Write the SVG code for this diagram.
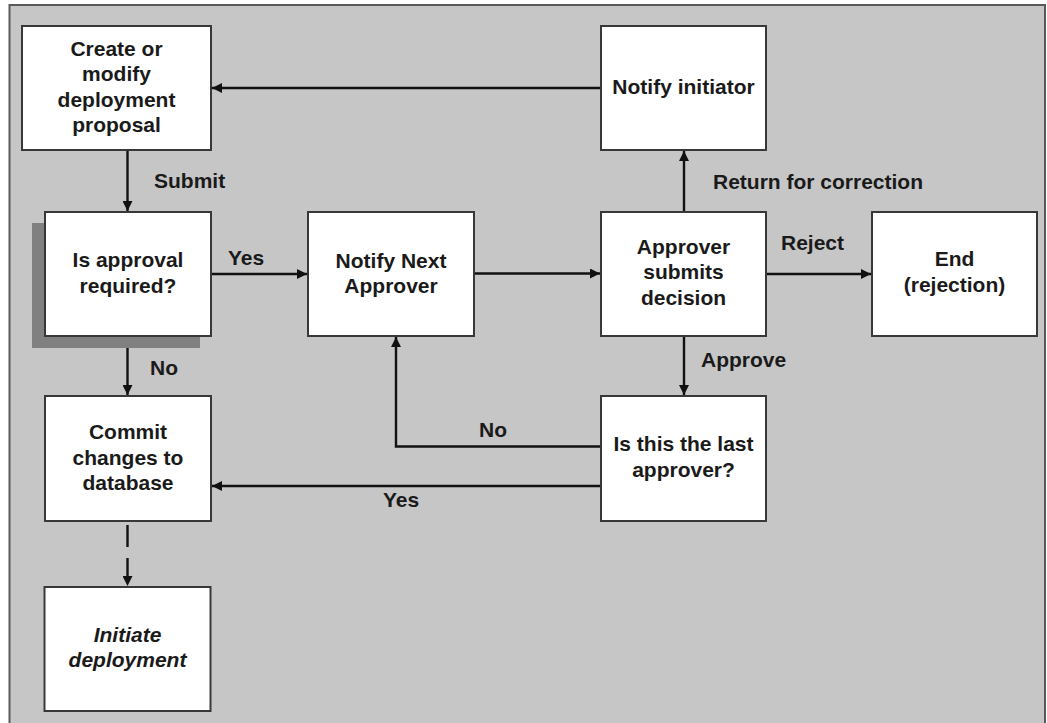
<svg xmlns="http://www.w3.org/2000/svg" width="1047" height="723" viewBox="0 0 1047 723">
<defs>
<style>
.box{fill:#ffffff;stroke:#383838;stroke-width:2}
.t{font-family:"Liberation Sans",Arial,sans-serif;font-size:21px;font-weight:bold;fill:#1a1a1a;text-anchor:middle}
.l{font-family:"Liberation Sans",Arial,sans-serif;font-size:21px;font-weight:bold;fill:#1a1a1a}
.c{fill:none;stroke:#111111;stroke-width:2.4}
</style>
<marker id="ah" viewBox="0 0 10 10" refX="10" refY="5" markerWidth="10" markerHeight="10" markerUnits="userSpaceOnUse" orient="auto">
<path d="M0,0 L10,5 L0,10 z" fill="#111111"/>
</marker>
</defs>
<rect x="0" y="0" width="1047" height="723" fill="#ffffff"/>
<rect x="9.5" y="5" width="1035.5" height="730" fill="#c6c6c6" stroke="#5a5a5a" stroke-width="2"/>

<g id="connectors">
<line class="c" x1="601" y1="88" x2="212" y2="88" marker-end="url(#ah)"/>
<line class="c" x1="127.5" y1="150" x2="127.5" y2="211" marker-end="url(#ah)"/>
<line class="c" x1="211" y1="274" x2="307" y2="274" marker-end="url(#ah)"/>
<line class="c" x1="474" y1="273.5" x2="600" y2="273.5" marker-end="url(#ah)"/>
<line class="c" x1="684" y1="212" x2="684" y2="151" marker-end="url(#ah)"/>
<line class="c" x1="766" y1="274" x2="871" y2="274" marker-end="url(#ah)"/>
<line class="c" x1="684" y1="336" x2="684" y2="395" marker-end="url(#ah)"/>
<line class="c" x1="127.5" y1="336" x2="127.5" y2="395" marker-end="url(#ah)"/>
<polyline class="c" points="601,446.5 396,446.5 396,337" marker-end="url(#ah)"/>
<line class="c" x1="601" y1="486" x2="212" y2="486" marker-end="url(#ah)"/>
<line class="c" x1="127.5" y1="525" x2="127.5" y2="586" stroke-dasharray="22 11" marker-end="url(#ah)"/>
<text class="l" x="154" y="188">Submit</text>
<text class="l" x="228" y="265">Yes</text>
<text class="l" x="150" y="375">No</text>
<text class="l" x="713" y="189">Return for correction</text>
<text class="l" x="781" y="250">Reject</text>
<text class="l" x="701" y="367">Approve</text>
<text class="l" x="479" y="437">No</text>
<text class="l" x="383" y="507">Yes</text>
</g>

<g id="create">
<rect class="box" x="22" y="26" width="189" height="124"/>
<text class="t" x="116.5" y="55.5">Create or</text>
<text class="t" x="116.5" y="81">modify</text>
<text class="t" x="116.5" y="106.5">deployment</text>
<text class="t" x="116.5" y="132">proposal</text>
</g>

<g id="approval-required">
<rect x="32" y="223" width="168" height="125" fill="#808080"/>
<rect class="box" x="45" y="212" width="166" height="124"/>
<text class="t" x="128" y="267">Is approval</text>
<text class="t" x="128" y="292.5">required?</text>
</g>

<g id="notify-next">
<rect class="box" x="308" y="212" width="166" height="124"/>
<text class="t" x="391" y="267.5">Notify Next</text>
<text class="t" x="391" y="292.5">Approver</text>
</g>

<g id="approver-submits">
<rect class="box" x="601" y="212" width="165" height="124"/>
<text class="t" x="683.5" y="253.5">Approver</text>
<text class="t" x="683.5" y="279">submits</text>
<text class="t" x="683.5" y="304.5">decision</text>
</g>

<g id="end">
<rect class="box" x="872" y="212" width="165" height="124"/>
<text class="t" x="954.5" y="266">End</text>
<text class="t" x="954.5" y="292">(rejection)</text>
</g>

<g id="notify-initiator">
<rect class="box" x="601" y="26" width="165" height="124"/>
<text class="t" x="683.5" y="94">Notify initiator</text>
</g>

<g id="last-approver">
<rect class="box" x="601" y="396" width="165" height="125"/>
<text class="t" x="683.5" y="450.5">Is this the last</text>
<text class="t" x="683.5" y="476.5">approver?</text>
</g>

<g id="commit">
<rect class="box" x="45" y="396" width="166" height="125"/>
<text class="t" x="128" y="439">Commit</text>
<text class="t" x="128" y="464.5">changes to</text>
<text class="t" x="128" y="489.5">database</text>
</g>

<g id="initiate">
<rect class="box" x="44.5" y="587" width="166" height="124"/>
<text class="t" x="127.5" y="641.5" font-style="italic">Initiate</text>
<text class="t" x="127.5" y="667" font-style="italic">deployment</text>
</g>
</svg>
